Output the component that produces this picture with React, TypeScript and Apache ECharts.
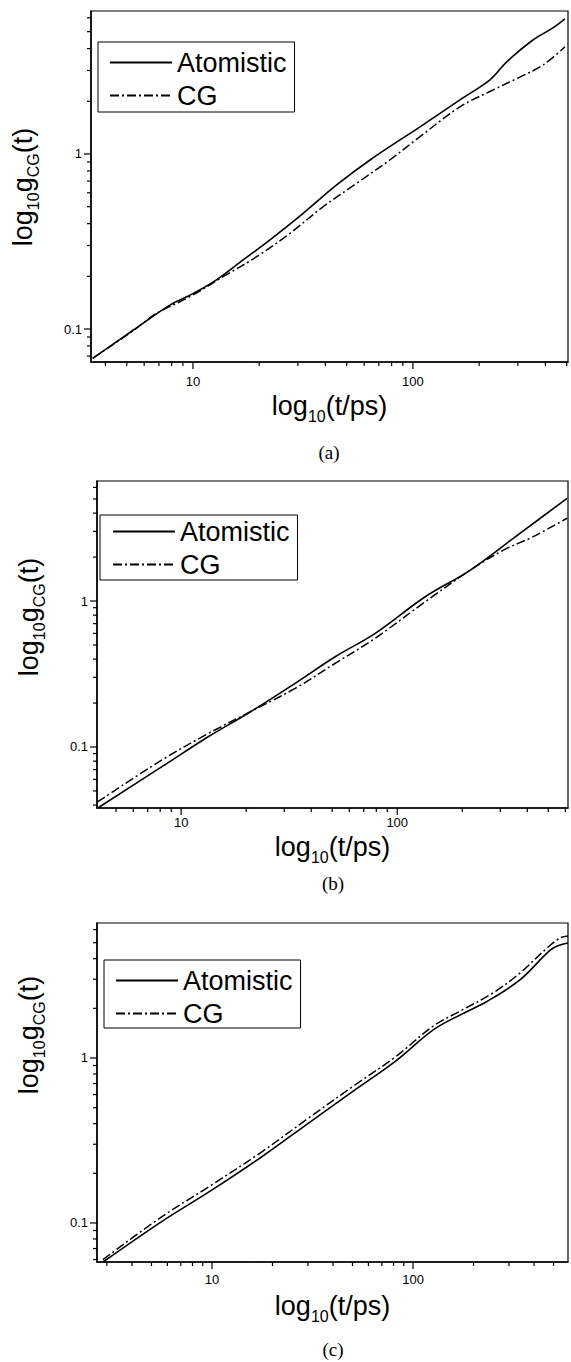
import React, { useEffect, useRef } from "react";
import * as echarts from "echarts";

const FONT = "'Liberation Sans', Arial, sans-serif";
const SERIF = "'Liberation Serif', 'Times New Roman', serif";

const seriesNames = ["Atomistic", "CG"];

// ---------- Panel (a) ----------
const tAtomA = [3.5, 5.36, 7.85, 9.69, 12.8, 16.9, 22.4, 31.7, 45.0, 63.8, 107.7, 163.7, 224, 267, 351, 433, 491];
const gAtomA = [0.068, 0.0987, 0.137, 0.156, 0.191, 0.248, 0.323, 0.458, 0.665, 0.924, 1.43, 2.04, 2.65, 3.36, 4.48, 5.25, 5.91];
const tCgA = [3.5, 5.36, 6.84, 9.69, 13.7, 19.5, 27.6, 39.1, 55.5, 78.5, 107.7, 163.7, 231, 306, 390, 491];
const gCgA = [0.068, 0.098, 0.123, 0.153, 0.199, 0.259, 0.352, 0.5, 0.68, 0.924, 1.256, 1.86, 2.32, 2.75, 3.22, 4.09];
const xMajorA = [10, 100];
const xMinorA = [4, 5, 6, 7, 8, 9, 20, 30, 40, 50, 60, 70, 80, 90, 200, 300, 400, 500];
const yMajorA = [0.1, 1];
const yMinorA = [0.07, 0.08, 0.09, 0.2, 0.3, 0.4, 0.5, 0.6, 0.7, 0.8, 0.9, 2, 3, 4, 5, 6];

// ---------- Panel (b) ----------
const tAtomB = [4.15, 8.15, 13.4, 20.5, 33.7, 51.6, 79.1, 134.8, 218, 371, 611];
const gAtomB = [0.0385, 0.0733, 0.118, 0.171, 0.273, 0.415, 0.601, 1.07, 1.63, 2.92, 5.05];
const tCgB = [4.1, 8.15, 13.4, 20.5, 33.7, 51.6, 79.1, 134.8, 218, 310, 426, 611];
const gCgB = [0.042, 0.0815, 0.124, 0.172, 0.252, 0.374, 0.556, 0.989, 1.63, 2.23, 2.76, 3.69];
const xMajorB = [10, 100];
const xMinorB = [5, 6, 7, 8, 9, 20, 30, 40, 50, 60, 70, 80, 90, 200, 300, 400, 500, 600];
const yMajorB = [0.1, 1];
const yMinorB = [0.04, 0.05, 0.06, 0.07, 0.08, 0.09, 0.2, 0.3, 0.4, 0.5, 0.6, 0.7, 0.8, 0.9, 2, 3, 4, 5, 6];

// ---------- Panel (c) ----------
const tAtomC = [2.87, 5.62, 9.97, 17.7, 30.1, 51.4, 81.3, 126, 171, 233, 340, 481, 539, 590];
const gAtomC = [0.058, 0.102, 0.158, 0.252, 0.402, 0.64, 0.95, 1.48, 1.82, 2.2, 2.97, 4.51, 4.84, 4.98];
const tCgC = [2.87, 5.62, 9.97, 17.7, 30.1, 51.4, 81.3, 126, 171, 250, 340, 464, 539, 590];
const gCgC = [0.06, 0.109, 0.17, 0.27, 0.431, 0.686, 1.01, 1.56, 1.92, 2.48, 3.27, 4.64, 5.34, 5.49];
const xMajorC = [10, 100];
const xMinorC = [3, 4, 5, 6, 7, 8, 9, 20, 30, 40, 50, 60, 70, 80, 90, 200, 300, 400, 500];
const yMajorC = [0.1, 1];
const yMinorC = [0.06, 0.07, 0.08, 0.09, 0.2, 0.3, 0.4, 0.5, 0.6, 0.7, 0.8, 0.9, 2, 3, 4, 5, 6];

const captions = ["(a)", "(b)", "(c)"];

type Panel = {
  grid: { left: number; top: number; width: number; height: number };
  xRange: [number, number];
  yRange: [number, number];
  atom: [number[], number[]];
  cg: [number[], number[]];
  xMajor: number[];
  xMinor: number[];
  yMajor: number[];
  yMinor: number[];
  legend: { left: number; top: number; padding: number[] };
  xLabelMargin: number;
  nameGap: number;
  yName: [number, number];
  captionPos: [number, number];
};

const panels: Panel[] = [
  {
    grid: { left: 91, top: 11, width: 477, height: 351 },
    xRange: [3.44, 507],
    yRange: [0.0648, 6.56],
    atom: [tAtomA, gAtomA],
    cg: [tCgA, gCgA],
    xMajor: xMajorA, xMinor: xMinorA, yMajor: yMajorA, yMinor: yMinorA,
    legend: { left: 98, top: 42, padding: [7, 8, 3, 11] },
    xLabelMargin: 13,
    nameGap: 30,
    yName: [24, 187],
    captionPos: [329, 452],
  },
  {
    grid: { left: 97, top: 481, width: 471, height: 327 },
    xRange: [4.08, 617],
    yRange: [0.0382, 6.64],
    atom: [tAtomB, gAtomB],
    cg: [tCgB, gCgB],
    xMajor: xMajorB, xMinor: xMinorB, yMajor: yMajorB, yMinor: yMinorB,
    legend: { left: 100, top: 515, padding: [3, 8, 2, 12] },
    xLabelMargin: 8,
    nameGap: 25,
    yName: [30, 617],
    captionPos: [333, 883],
  },
  {
    grid: { left: 97, top: 923, width: 471, height: 339 },
    xRange: [2.68, 590],
    yRange: [0.058, 6.58],
    atom: [tAtomC, gAtomC],
    cg: [tCgC, gCgC],
    xMajor: xMajorC, xMinor: xMinorC, yMajor: yMajorC, yMinor: yMinorC,
    legend: { left: 104, top: 960, padding: [7, 8, 1, 11] },
    xLabelMargin: 11,
    nameGap: 30,
    yName: [30, 1035],
    captionPos: [333, 1349],
  },
];

const richName = {
  m: { fontSize: 27, fontFamily: FONT, color: "#000", lineHeight: 30, verticalAlign: "top" },
  s: { fontSize: 16, fontFamily: FONT, color: "#000", lineHeight: 16, verticalAlign: "top", padding: [16, 0, 0, 0] },
};

const decadeLabel = (v: number) => {
  const l = Math.log10(v);
  if (Math.abs(l - Math.round(l)) > 1e-6) return "";
  const r = Math.pow(10, Math.round(l));
  return r >= 1 ? String(Math.round(r)) : String(+r.toPrecision(3));
};

function buildOption() {
  const grid: any[] = [];
  const xAxis: any[] = [];
  const yAxis: any[] = [];
  const series: any[] = [];
  const legend: any[] = [];
  const graphic: any[] = [];

  panels.forEach((p, i) => {
    grid.push({ ...p.grid, show: true, borderColor: "#000", borderWidth: 1.2, containLabel: false });
    xAxis.push({
      type: "log",
      logBase: 10,
      gridIndex: i,
      min: p.xRange[0],
      max: p.xRange[1],
      axisLine: { show: true, onZero: false, lineStyle: { color: "#000", width: 1.5 } },
      axisTick: { show: false },
      minorTick: { show: false },
      splitLine: { show: false },
      axisLabel: { formatter: decadeLabel, margin: p.xLabelMargin, color: "#000", fontSize: 13, fontFamily: FONT },
      name: "{m|log}{s|10}{m|(t/ps)}",
      nameLocation: "middle",
      nameGap: p.nameGap,
      nameTextStyle: { rich: richName },
    });
    yAxis.push({
      type: "log",
      logBase: 10,
      gridIndex: i,
      min: p.yRange[0],
      max: p.yRange[1],
      axisLine: { show: true, onZero: false, lineStyle: { color: "#000", width: 1.5 } },
      axisTick: { show: false },
      minorTick: { show: false },
      splitLine: { show: false },
      axisLabel: { formatter: decadeLabel, margin: 9, color: "#000", fontSize: 13, fontFamily: FONT },
    });

    const mk = (t: number[], g: number[]) => t.map((x, k) => [x, g[k]]);
    series.push({
      name: seriesNames[0],
      type: "line",
      xAxisIndex: i,
      yAxisIndex: i,
      data: mk(p.atom[0], p.atom[1]),
      symbol: "none",
      showSymbol: false,
      smooth: 0.35,
      lineStyle: { color: "#000", width: 1.6, type: "solid" },
      itemStyle: { color: "#000" },
      z: 3,
    });
    series.push({
      name: seriesNames[1],
      type: "line",
      xAxisIndex: i,
      yAxisIndex: i,
      data: mk(p.cg[0], p.cg[1]),
      symbol: "none",
      showSymbol: false,
      smooth: 0.35,
      lineStyle: { color: "#000", width: 1.5, type: [9, 3, 2, 3] },
      itemStyle: { color: "#000" },
      z: 3,
    });

    const xTickData = [
      ...p.xMajor.map((v) => [v, p.yRange[0], 1]),
      ...p.xMinor.map((v) => [v, p.yRange[0], 0]),
    ];
    const yTickData = [
      ...p.yMajor.map((v) => [p.xRange[0], v, 1]),
      ...p.yMinor.map((v) => [p.xRange[0], v, 0]),
    ];
    series.push({
      name: "xticks" + i,
      type: "custom",
      xAxisIndex: i,
      yAxisIndex: i,
      clip: false,
      silent: true,
      z: 5,
      data: xTickData,
      renderItem: (_params: any, api: any) => {
        const c = api.coord([api.value(0), api.value(1)]);
        const len = api.value(2) === 1 ? 7 : 4;
        return { type: "line", shape: { x1: c[0], y1: c[1], x2: c[0], y2: c[1] + len }, style: { stroke: "#000", lineWidth: 1.2 } };
      },
    });
    series.push({
      name: "yticks" + i,
      type: "custom",
      xAxisIndex: i,
      yAxisIndex: i,
      clip: false,
      silent: true,
      z: 5,
      data: yTickData,
      renderItem: (_params: any, api: any) => {
        const c = api.coord([api.value(0), api.value(1)]);
        const len = api.value(2) === 1 ? 7 : 4;
        return { type: "line", shape: { x1: c[0] - len, y1: c[1], x2: c[0], y2: c[1] }, style: { stroke: "#000", lineWidth: 1.2 } };
      },
    });

    legend.push({
      orient: "vertical",
      left: p.legend.left,
      top: p.legend.top,
      padding: p.legend.padding,
      itemGap: 6,
      itemWidth: 62,
      itemHeight: 16,
      borderColor: "#000",
      borderWidth: 1,
      backgroundColor: "#fff",
      selectedMode: false,
      itemStyle: { opacity: 0 },
      data: seriesNames,
      textStyle: { fontSize: 27, fontFamily: FONT, color: "#000" },
    });

    graphic.push({
      type: "text",
      x: p.yName[0],
      y: p.yName[1],
      rotation: Math.PI / 2,
      style: {
        text: "{m|log}{s|10}{m|g}{s|CG}{m|(t)}",
        rich: richName,
        align: "center",
        verticalAlign: "middle",
      },
    });
    graphic.push({
      type: "text",
      x: p.captionPos[0],
      y: p.captionPos[1],
      style: {
        text: captions[i],
        font: "19px " + SERIF,
        fill: "#000",
        align: "center",
        verticalAlign: "middle",
      },
    });
  });

  return {
    animation: false,
    backgroundColor: "#fff",
    grid,
    xAxis,
    yAxis,
    legend,
    series,
    graphic,
  };
}

export default function App() {
  const ref = useRef<HTMLDivElement>(null);
  useEffect(() => {
    if (!ref.current) return;
    const chart = echarts.init(ref.current, null, { renderer: "svg" });
    chart.setOption(buildOption() as any);
    return () => chart.dispose();
  }, []);
  return (
    <div
      ref={ref}
      style={{ position: "absolute", left: 0, top: 0, width: 571, height: 1362, background: "#fff" }}
    />
  );
}
